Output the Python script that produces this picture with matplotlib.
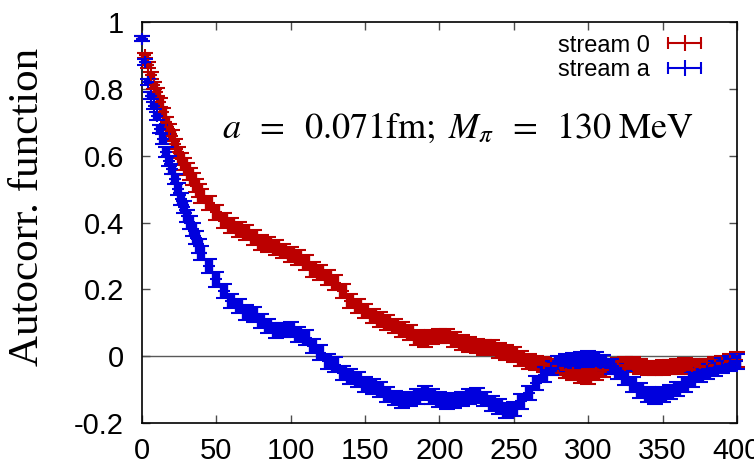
import numpy as np
import matplotlib.pyplot as plt
from matplotlib.lines import Line2D
from matplotlib.legend_handler import HandlerLine2D, HandlerTuple

# lag (MD time) grid: finer at small lag where the correlation drops fast
lag = list(range(0, 40, 2)) + list(range(40, 405, 5))

# stream 0 autocorrelation
acf_0 = [0.95, 0.90, 0.87, 0.84, 0.81, 0.79, 0.76, 0.73, 0.70, 0.68,
         0.66, 0.635, 0.61, 0.59, 0.575, 0.56, 0.545, 0.53, 0.51, 0.495,
         0.48, 0.458,
         0.43, 0.405, 0.39, 0.38, 0.37, 0.355, 0.34, 0.335, 0.325, 0.315,
         0.305, 0.295, 0.28, 0.26, 0.25, 0.235, 0.22, 0.195, 0.165, 0.15,
         0.135, 0.12, 0.11, 0.10, 0.09, 0.08, 0.07, 0.055, 0.05, 0.057,
         0.06, 0.06, 0.05, 0.04, 0.035, 0.03, 0.027, 0.025, 0.018, 0.012,
         0.005, -0.008, -0.015, -0.02, -0.024, -0.03, -0.035, -0.042, -0.05, -0.058,
         -0.06, -0.05, -0.04, -0.03, -0.028, -0.025, -0.025, -0.03, -0.035, -0.035,
         -0.034, -0.032, -0.03, -0.028, -0.03, -0.032, -0.03, -0.025, -0.02, -0.015,
         -0.01]

# stream a autocorrelation
acf_a = [0.95, 0.88, 0.82, 0.78, 0.75, 0.72, 0.68, 0.65, 0.61, 0.585,
         0.56, 0.53, 0.50, 0.47, 0.445, 0.42, 0.40, 0.38, 0.355, 0.33,
         0.31, 0.27,
         0.23, 0.195, 0.165, 0.15, 0.13, 0.125, 0.105, 0.09, 0.077, 0.078,
         0.08, 0.065, 0.055, 0.03, 0.01, -0.015, -0.025, -0.05, -0.06, -0.07,
         -0.085, -0.09, -0.10, -0.115, -0.125, -0.133, -0.128, -0.12, -0.11, -0.12,
         -0.13, -0.135, -0.133, -0.128, -0.12, -0.118, -0.128, -0.142, -0.15, -0.162,
         -0.158, -0.135, -0.11, -0.08, -0.055, -0.035, -0.022, -0.016, -0.013, -0.01,
         -0.008, -0.01, -0.018, -0.03, -0.045, -0.065, -0.085, -0.102, -0.115, -0.12,
         -0.115, -0.107, -0.098, -0.085, -0.07, -0.055, -0.045, -0.036, -0.028, -0.022,
         -0.015]

# jackknife errors (same size for both streams)
err = [0.007, 0.008, 0.009, 0.010, 0.011, 0.012, 0.013, 0.014, 0.015, 0.015,
       0.016, 0.016, 0.017, 0.017, 0.018, 0.018, 0.019, 0.019, 0.020, 0.020,
       0.021, 0.021] + [0.022] * 71

xticks = [0, 50, 100, 150, 200, 250, 300, 350, 400]
yticks = [-0.2, 0, 0.2, 0.4, 0.6, 0.8, 1]
ytick_labels = ['-0.2', '0', '0.2', '0.4', '0.6', '0.8', '1']

red = '#bb0000'
blue = '#0000dd'

plt.rcParams['font.family'] = 'Liberation Sans'
plt.rcParams['mathtext.fontset'] = 'stix'

fig = plt.figure(figsize=(7.54, 4.67), dpi=100)
ax = fig.add_axes([0.1883, 0.0942, 0.7891, 0.8587])

ax.axhline(0, color='0.35', lw=1.0, zorder=1)

for y, c in [(acf_0, red), (acf_a, blue)]:
    ax.errorbar(lag, y, yerr=err, fmt='+', color=c, ms=8, mew=1.5,
                elinewidth=6, capsize=6, capthick=1.6, clip_on=False, zorder=3)

ax.set_xlim(0, 400)
ax.set_ylim(-0.2, 1)
ax.set_xticks(xticks)
ax.set_yticks(yticks)
ax.set_yticklabels(ytick_labels)
ax.tick_params(direction='in', length=6, width=1, top=True, right=True,
               labelsize=21, color='0.3')
ax.tick_params(axis='x', pad=10)
ax.tick_params(axis='y', pad=13)
for s in ax.spines.values():
    s.set_linewidth(1.2)

ax.set_ylabel('Autocorr. function', family='Liberation Serif', fontsize=31)
ax.yaxis.set_label_coords(-0.16, 0.54)

ax.text(0.134, 0.711,
        r'$a\;\;=\;\;0.071\mathrm{fm};\;M_{\pi}\;\;=\;\;130\;\mathrm{MeV}$',
        transform=ax.transAxes, fontsize=26, va='baseline')

# gnuplot-style key: line with end caps and a tick in the middle
def key_handle(c):
    caps = Line2D([], [], color=c, lw=1.5, marker='|', ms=8, mew=1.5)
    pt = Line2D([], [], color=c, ls='none', marker='|', ms=12, mew=1.5)
    return (caps, pt)

h0 = key_handle(red)
ha = key_handle(blue)
hmap = {h0[0]: HandlerLine2D(numpoints=2), ha[0]: HandlerLine2D(numpoints=2),
        h0[1]: HandlerLine2D(numpoints=1), ha[1]: HandlerLine2D(numpoints=1),
        tuple: HandlerTuple(ndivide=1)}
ax.legend([h0, ha], ['stream 0', 'stream a'], handler_map=hmap,
          loc='upper right', bbox_to_anchor=(0.98, 1.01), frameon=False,
          markerfirst=False, fontsize=17, handlelength=2.0, handletextpad=0.5,
          labelspacing=0.1, borderaxespad=0.3)

fig.savefig('out.png', dpi=100)
